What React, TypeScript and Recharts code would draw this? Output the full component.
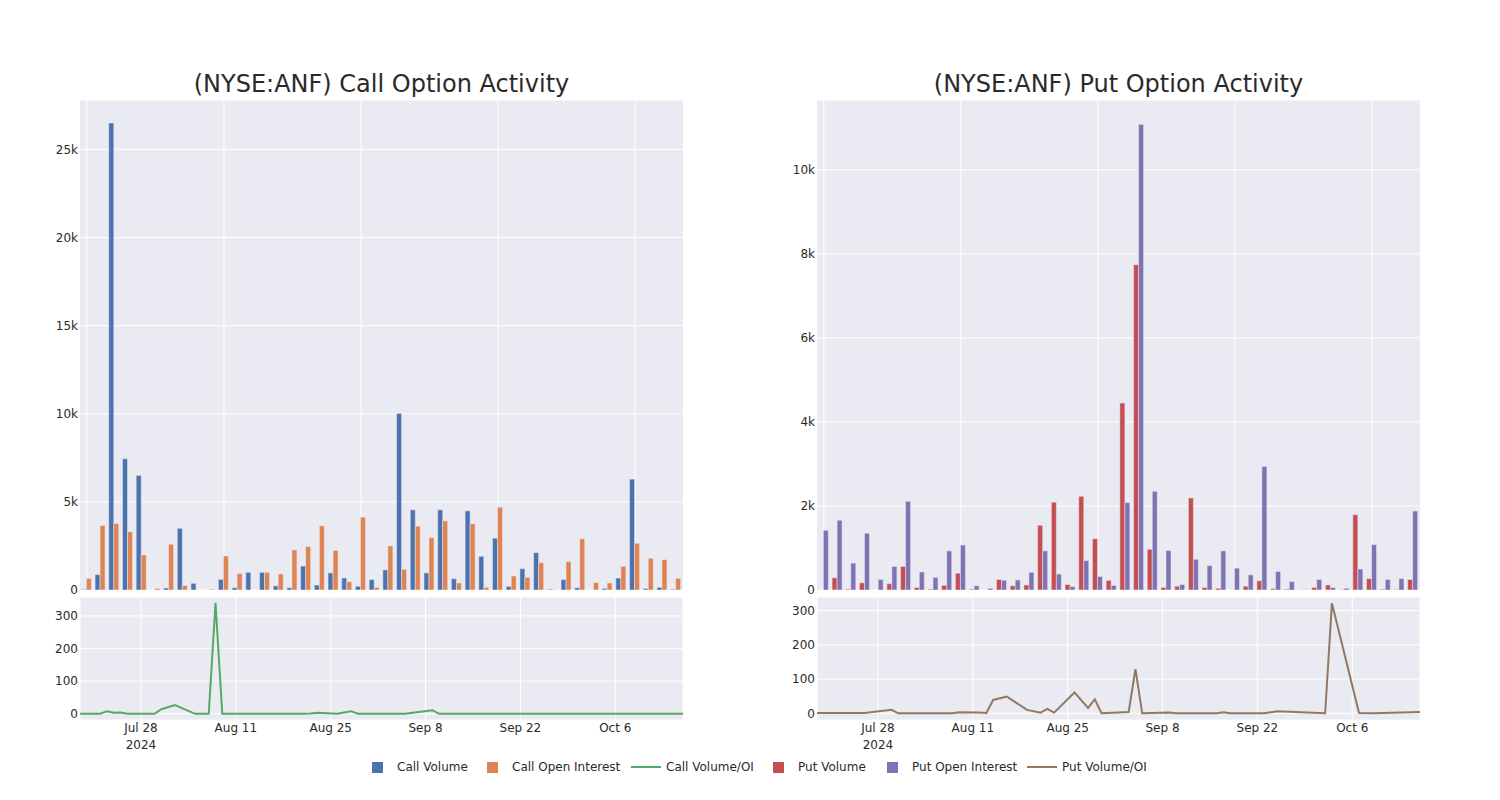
import React from 'react';
import { BarChart, Bar, LineChart, Line, XAxis, YAxis, CartesianGrid } from 'recharts';

const MONTHS = ['Jan', 'Feb', 'Mar', 'Apr', 'May', 'Jun', 'Jul', 'Aug', 'Sep', 'Oct', 'Nov', 'Dec'];

// call side
const callDates = [
  '2024-07-19', '2024-07-22', '2024-07-23', '2024-07-24', '2024-07-25', '2024-07-26', '2024-07-30', '2024-07-31',
  '2024-08-02', '2024-08-05', '2024-08-07', '2024-08-08', '2024-08-09', '2024-08-12', '2024-08-14', '2024-08-15',
  '2024-08-19', '2024-08-21', '2024-08-22', '2024-08-23', '2024-08-26', '2024-08-28', '2024-08-29', '2024-09-03',
  '2024-09-05', '2024-09-09', '2024-09-10', '2024-09-12', '2024-09-13', '2024-09-16', '2024-09-18', '2024-09-19',
  '2024-09-20', '2024-09-23', '2024-09-25', '2024-09-26', '2024-09-27', '2024-09-30', '2024-10-02', '2024-10-03',
  '2024-10-04', '2024-10-08', '2024-10-11', '2024-10-16',
];
const callVolume = [
  30, 870, 26500, 7440, 6500, 0, 110, 3500, 380, 0, 600, 130, 1000, 1000, 230, 130, 1360, 280, 970, 680, 210, 590,
  1140, 10020, 4550, 970, 4550, 640, 4490, 1910, 2940, 210, 1210, 2120, 40, 590, 130, 0, 90, 680, 6290, 80, 150, 40,
];
const callOpenInterest = [
  660, 3660, 3770, 3300, 1990, 90, 2600, 250, 0, 40, 1930, 930, 0, 1000, 910, 2270, 2460, 3640, 2250, 470, 4130, 150,
  2500, 1170, 3620, 2970, 3920, 400, 3750, 150, 4700, 800, 720, 1550, 20, 1610, 2900, 420, 400, 1340, 2650, 1800, 1720, 660,
];
const callVolOI = [
  0, 0, 8, 3, 4, 0, 0, 14, 27, 0, 0, 340, 0, 0, 0, 0, 0, 0, 1, 3, 0, 8, 0, 0, 0, 11, 0, 0, 0, 0, 0, 0, 0, 0, 0, 0, 0,
  0, 0, 0, 0, 0, 0, 0,
];

// put side
const putDates = [
  '2024-07-19', '2024-07-22', '2024-07-23', '2024-07-24', '2024-07-26', '2024-07-30', '2024-07-31', '2024-08-01',
  '2024-08-02', '2024-08-05', '2024-08-07', '2024-08-08', '2024-08-09', '2024-08-12', '2024-08-13', '2024-08-14',
  '2024-08-16', '2024-08-19', '2024-08-21', '2024-08-22', '2024-08-23', '2024-08-26', '2024-08-28', '2024-08-29',
  '2024-08-30', '2024-09-03', '2024-09-04', '2024-09-05', '2024-09-09', '2024-09-10', '2024-09-11', '2024-09-13',
  '2024-09-16', '2024-09-17', '2024-09-18', '2024-09-19', '2024-09-20', '2024-09-23', '2024-09-25', '2024-10-02',
  '2024-10-03', '2024-10-07', '2024-10-09', '2024-10-16',
];
const putVolume = [
  0, 290, 20, 170, 0, 150, 560, 60, 20, 110, 400, 20, 0, 250, 100, 120, 1540, 2090, 130, 2230, 1220, 230, 4450, 7740,
  970, 60, 90, 2190, 60, 40, 0, 90, 220, 30, 20, 5, 60, 120, 10, 1790, 270, 20, 10, 250,
];
const putOpenInterest = [
  1420, 1660, 640, 1350, 250, 560, 2110, 430, 300, 930, 1070, 100, 40, 230, 240, 420, 930, 380, 80, 700, 320, 110,
  2080, 11080, 2350, 940, 130, 730, 580, 930, 520, 360, 2940, 440, 200, 10, 250, 60, 40, 500, 1080, 250, 270, 1880,
];
const putVolOI = [
  1, 1, 1, 1, 1, 10, 0, 0, 0, 0, 0, 0, 3, 2, 1, 39, 49, 10, 2, 13, 2, 61, 16, 41, 0, 4, 129, 0, 2, 0, 0, 0, 0, 3, 0,
  0, 0, 0, 6, 0, 322, 1, 0, 4,
];

const dateTicks = ['2024-07-28', '2024-08-11', '2024-08-25', '2024-09-08', '2024-09-22', '2024-10-06'];
const callYTicks = [0, 5000, 10000, 15000, 20000, 25000];
const putYTicks = [0, 2000, 4000, 6000, 8000, 10000];
const ratioTicks = [0, 100, 200, 300];
const catGridEvery = 10;

const BG = '#EAEAF2';
const TXT = '#2a2a2a';
const COLORS = {
  callVol: '#4C72B0',
  callOI: '#DD8452',
  callRatio: '#55A868',
  putVol: '#C44E52',
  putOI: '#8172B3',
  putRatio: '#937860',
};

const ts = (s: string) => Date.parse(s + 'T00:00:00Z');
const xDomain = [ts('2024-07-19'), ts('2024-10-16')];

const callBars = callDates.map((d, i) => ({ d, vol: callVolume[i], oi: callOpenInterest[i] }));
const putBars = putDates.map((d, i) => ({ d, vol: putVolume[i], oi: putOpenInterest[i] }));
const callLine = callDates.map((d, i) => ({ t: ts(d), r: callVolOI[i] }));
const putLine = putDates.map((d, i) => ({ t: ts(d), r: putVolOI[i] }));

const kFmt = (v: number) => (v === 0 ? '0' : v / 1000 + 'k');

const DateTick = (props: any) => {
  const { x, y, payload, index } = props;
  const dt = new Date(payload.value);
  const label = MONTHS[dt.getUTCMonth()] + ' ' + dt.getUTCDate();
  return (
    <g>
      <text x={x} y={y} dy="0.71em" textAnchor="middle" fontSize={12} fill={TXT}>{label}</text>
      {index === 0 && (
        <text x={x} y={y + 17} dy="0.71em" textAnchor="middle" fontSize={12} fill={TXT}>2024</text>
      )}
    </g>
  );
};

const tickStyle = { fontSize: 12, fill: TXT };

function BarPanel({ data, yTicks, yMax, c1, c2, left }: any) {
  const n = data.length;
  // category axis: a grid line through every 10th category centre
  const vGrid = ({ offset }: any) => {
    const out: number[] = [];
    for (let i = 0; i < n; i += catGridEvery) out.push(offset.left + (offset.width * (i + 0.5)) / n);
    return out;
  };
  return (
    <div style={{ position: 'absolute', left, top: 90 }}>
      <BarChart width={663} height={510} data={data} margin={{ top: 10, right: 0, bottom: 10, left: 0 }}
        barCategoryGap="10%" barGap={0}>
        <CartesianGrid fill={BG} stroke="#ffffff" strokeWidth={1} verticalCoordinatesGenerator={vGrid} />
        <XAxis dataKey="d" hide />
        <YAxis domain={[0, yMax]} ticks={yTicks} tickFormatter={kFmt} width={60} tickLine={false}
          axisLine={false} tickSize={2} tickMargin={0} tick={tickStyle} allowDataOverflow />
        <Bar dataKey="vol" fill={c1} stroke={BG} strokeWidth={0.5} isAnimationActive={false} />
        <Bar dataKey="oi" fill={c2} stroke={BG} strokeWidth={0.5} isAnimationActive={false} />
      </BarChart>
    </div>
  );
}

function LinePanel({ data, yMin, yMax, color, left }: any) {
  return (
    <div style={{ position: 'absolute', left, top: 587 }}>
      <LineChart width={663} height={173} data={data} margin={{ top: 10, right: 0, bottom: 0, left: 0 }}>
        <CartesianGrid fill={BG} stroke="#ffffff" strokeWidth={1} />
        <XAxis dataKey="t" type="number" domain={xDomain} ticks={dateTicks.map(ts)} interval={0}
          tick={<DateTick />} tickLine={false} axisLine={false} tickSize={3} tickMargin={0} height={40}
          allowDataOverflow />
        <YAxis domain={[yMin, yMax]} ticks={ratioTicks} width={60} tickLine={false} axisLine={false}
          tickSize={2} tickMargin={0} tick={tickStyle} allowDataOverflow />
        <Line type="linear" dataKey="r" stroke={color} strokeWidth={2} dot={false} isAnimationActive={false} />
      </LineChart>
    </div>
  );
}

const legendItems = [
  { name: 'Call Volume', color: COLORS.callVol, kind: 'bar' },
  { name: 'Call Open Interest', color: COLORS.callOI, kind: 'bar' },
  { name: 'Call Volume/OI', color: COLORS.callRatio, kind: 'line' },
  { name: 'Put Volume', color: COLORS.putVol, kind: 'bar' },
  { name: 'Put Open Interest', color: COLORS.putOI, kind: 'bar' },
  { name: 'Put Volume/OI', color: COLORS.putRatio, kind: 'line' },
];
// left edge of each legend entry (symbol box is 40px, text follows)
const legendLeft = [357, 472, 626, 758, 872, 1022];

const titleStyle: React.CSSProperties = {
  position: 'absolute', top: 68, width: 603, textAlign: 'center', fontSize: 24, color: TXT, lineHeight: '32px',
};

export default function App() {
  return (
    <div style={{ position: 'fixed', left: 0, top: 0, width: 1500, height: 800, background: '#fff',
      fontFamily: '"DejaVu Sans", sans-serif' }}>
      <div style={{ ...titleStyle, left: 80 }}>(NYSE:ANF) Call Option Activity</div>
      <div style={{ ...titleStyle, left: 817 }}>(NYSE:ANF) Put Option Activity</div>

      <BarPanel data={callBars} yTicks={callYTicks} yMax={27800}
        c1={COLORS.callVol} c2={COLORS.callOI} left={20} />
      <LinePanel data={callLine} yMin={-19} yMax={358} color={COLORS.callRatio} left={20} />

      <BarPanel data={putBars} yTicks={putYTicks} yMax={11660}
        c1={COLORS.putVol} c2={COLORS.putOI} left={757} />
      <LinePanel data={putLine} yMin={-19.6} yMax={340} color={COLORS.putRatio} left={757} />

      {legendItems.map((it, i) => (
        <div key={it.name} style={{ position: 'absolute', left: legendLeft[i], top: 759, height: 16,
          display: 'flex', alignItems: 'center', fontSize: 12, color: TXT }}>
          <div style={{ width: 40, display: 'flex', justifyContent: 'center' }}>
            {it.kind === 'bar'
              ? <div style={{ width: 11, height: 11, background: it.color }} />
              : <div style={{ width: 30, height: 2, background: it.color }} />}
          </div>
          <span style={{ whiteSpace: 'nowrap' }}>{it.name}</span>
        </div>
      ))}
    </div>
  );
}
